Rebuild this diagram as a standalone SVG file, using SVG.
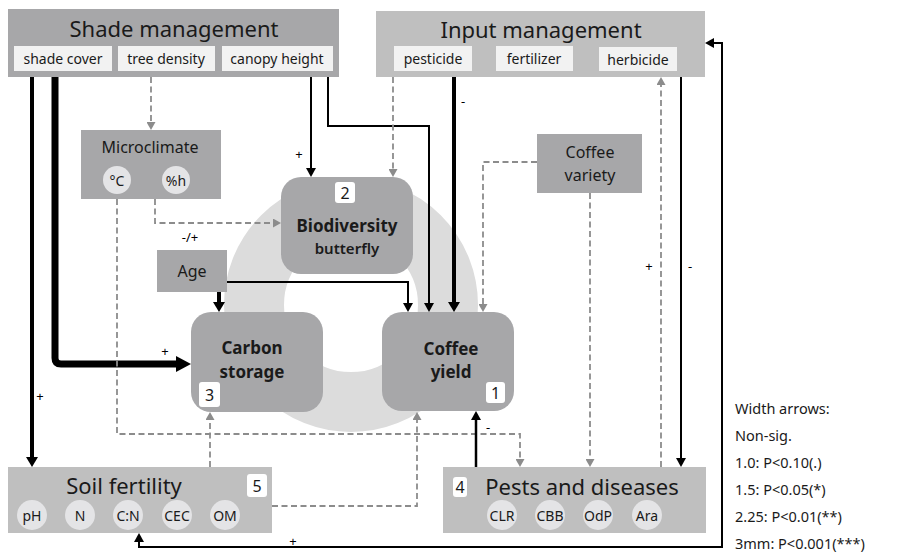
<svg xmlns="http://www.w3.org/2000/svg" width="898" height="552" viewBox="0 0 898 552">
<defs>
<style>
text{font-family:"Noto Sans","DejaVu Sans",sans-serif;fill:#1a1a1a;text-anchor:middle;dominant-baseline:central}
.dark{fill:#a7a7a9}
.light{fill:#bfbfbf}
.sub{fill:#f2f2f2}
.circ{fill:#e4e4e6}
.num{fill:#ffffff}
.title{font-size:22px}
.st{font-size:14px}
.mid{font-size:16px}
.bold{font-size:17px;font-weight:bold}
.ct{font-size:14px}
.lbl{font-size:13px;fill:#000}
.leg{font-size:14.5px;text-anchor:start}
.blk{fill:none;stroke:#000}
.gry{fill:none;stroke:#8c8c8c;stroke-width:1.8;stroke-dasharray:6 3.5}
</style>
<marker id="as" markerUnits="userSpaceOnUse" markerWidth="9" markerHeight="10" refX="0" refY="5" orient="auto-start-reverse" viewBox="0 0 9 10"><path d="M0,0L9,5L0,10z" fill="#000"/></marker>
<marker id="am" markerUnits="userSpaceOnUse" markerWidth="10" markerHeight="12" refX="0" refY="6" orient="auto" viewBox="0 0 10 12"><path d="M0,0L10,6L0,12z" fill="#000"/></marker>
<marker id="al" markerUnits="userSpaceOnUse" markerWidth="15" markerHeight="16" refX="0" refY="8" orient="auto" viewBox="0 0 15 16"><path d="M0,0L15,8L0,16z" fill="#000"/></marker>
<marker id="ag" markerUnits="userSpaceOnUse" markerWidth="8" markerHeight="9" refX="0" refY="4.5" orient="auto" viewBox="0 0 8 9"><path d="M0,0L8,4.5L0,9z" fill="#8c8c8c"/></marker>
</defs>
<rect width="898" height="552" fill="#fff"/>
<circle cx="351" cy="305" r="97" fill="none" stroke="#dcdcdc" stroke-width="60"/>

<g id="connectors">
<path class="blk" stroke-width="4" d="M32,77V457" marker-end="url(#am)"/>
<path class="blk" stroke-width="7" d="M55,77V358Q55,364 61,364H176" marker-end="url(#al)"/>
<path class="gry" d="M151,77V122" marker-end="url(#ag)"/>
<path class="blk" stroke-width="2" d="M311,77V168" marker-end="url(#as)"/>
<path class="blk" stroke-width="2" d="M328,77V126H429V303" marker-end="url(#as)"/>
<path class="blk" stroke-width="4" d="M454,77V302" marker-end="url(#am)"/>
<path class="gry" d="M393,77V169" marker-end="url(#ag)"/>
<path class="gry" d="M537,162H483V304" marker-end="url(#ag)"/>
<path class="gry" d="M590,193V459" marker-end="url(#ag)"/>
<path class="gry" d="M661,467V85" marker-end="url(#ag)"/>
<path class="blk" stroke-width="2" d="M681,77V458" marker-end="url(#as)"/>
<path class="blk" stroke-width="2" d="M139,542V547H722V43H714" marker-start="url(#as)" marker-end="url(#as)"/>
<path class="gry" d="M155,199V223H273" marker-end="url(#ag)"/>
<path class="gry" d="M117,199V434H520V459" marker-end="url(#ag)"/>
<path class="blk" stroke-width="4" d="M219,292V302" marker-end="url(#am)"/>
<path class="blk" stroke-width="2" d="M227,282H408V303" marker-end="url(#as)"/>
<path class="gry" d="M210,467V420" marker-end="url(#ag)"/>
<path class="gry" d="M272,506H417V420" marker-end="url(#ag)"/>
<path class="blk" stroke-width="2.5" d="M476,467V420" marker-end="url(#as)"/>
<text class="lbl" x="40" y="396">+</text>
<text class="lbl" x="165" y="351">+</text>
<text class="lbl" x="299" y="154">+</text>
<text class="lbl" x="463" y="101">-</text>
<text class="lbl" x="190" y="237">-/+</text>
<text class="lbl" x="649" y="266">+</text>
<text class="lbl" x="690" y="266">-</text>
<text class="lbl" x="488" y="427">-</text>
<text class="lbl" x="293" y="541">+</text>
</g>

<g id="shade">
<rect class="dark" x="8" y="9" width="331" height="68"/>
<text class="title" x="174" y="28">Shade management</text>
<rect class="sub" x="14" y="46" width="98" height="25"/>
<rect class="sub" x="118" y="46" width="97" height="25"/>
<rect class="sub" x="222" y="46" width="111" height="25"/>
<text class="st" x="63" y="58">shade cover</text>
<text class="st" x="166" y="58">tree density</text>
<text class="st" x="277" y="58">canopy height</text>
</g>

<g id="input">
<rect class="light" x="376" y="11" width="329" height="66"/>
<text class="title" x="541" y="29">Input management</text>
<rect class="sub" x="394" y="46" width="78" height="25"/>
<rect class="sub" x="496" y="46" width="77" height="25"/>
<rect class="sub" x="599" y="47" width="78" height="24"/>
<text class="st" x="433" y="58">pesticide</text>
<text class="st" x="534" y="58">fertilizer</text>
<text class="st" x="638" y="59">herbicide</text>
</g>

<g id="microclimate">
<rect class="dark" x="81" y="130" width="140" height="69"/>
<text class="mid" x="150" y="147">Microclimate</text>
<circle class="circ" cx="117" cy="180" r="14"/>
<circle class="circ" cx="176" cy="180" r="14"/>
<text class="ct" x="117" y="180">°C</text>
<text class="ct" x="176" y="180">%h</text>
</g>

<g id="biodiversity">
<rect class="dark" x="281" y="177" width="132" height="97" rx="20"/>
<rect class="num" x="335" y="182" width="20" height="21" rx="3"/>
<text class="mid" x="345" y="193">2</text>
<text class="bold" x="347" y="225">Biodiversity</text>
<text x="347" y="248" style="font-size:15px;font-weight:600">butterfly</text>
</g>

<g id="age">
<rect class="dark" x="157" y="250" width="70" height="42"/>
<text class="mid" x="192" y="271">Age</text>
</g>

<g id="carbon">
<rect class="dark" x="191" y="312" width="132" height="100" rx="20"/>
<text class="bold" x="252" y="347">Carbon</text>
<text class="bold" x="252" y="371">storage</text>
<rect class="num" x="199" y="382" width="21" height="25" rx="3"/>
<text class="mid" x="209.5" y="395">3</text>
</g>

<g id="coffeeyield">
<rect class="dark" x="382" y="312" width="132" height="99" rx="20"/>
<text class="bold" x="451" y="348">Coffee</text>
<text class="bold" x="451" y="371">yield</text>
<rect class="num" x="486" y="382" width="19" height="21" rx="3"/>
<text class="mid" x="495.5" y="393">1</text>
</g>

<g id="variety">
<rect class="dark" x="537" y="134" width="105" height="59"/>
<text class="mid" x="590" y="152">Coffee</text>
<text class="mid" x="590" y="175">variety</text>
</g>

<g id="soil">
<rect class="light" x="8" y="467" width="264" height="66"/>
<text class="title" x="124" y="485">Soil fertility</text>
<rect class="num" x="247" y="474" width="20" height="23" rx="3"/>
<text class="mid" x="257" y="486">5</text>
<circle class="circ" cx="32" cy="515" r="15"/>
<circle class="circ" cx="80" cy="515" r="15"/>
<circle class="circ" cx="128" cy="515" r="15"/>
<circle class="circ" cx="177" cy="515" r="15"/>
<circle class="circ" cx="225" cy="515" r="15"/>
<text class="ct" x="32" y="515">pH</text>
<text class="ct" x="80" y="515">N</text>
<text class="ct" x="128" y="515">C:N</text>
<text class="ct" x="177" y="515">CEC</text>
<text class="ct" x="225" y="515">OM</text>
</g>

<g id="pests">
<rect class="light" x="443" y="467" width="263" height="66"/>
<rect class="num" x="453" y="477" width="14" height="20" rx="3"/>
<text class="mid" x="460" y="487">4</text>
<text class="title" x="582" y="486">Pests and diseases</text>
<circle class="circ" cx="502" cy="515" r="15"/>
<circle class="circ" cx="550" cy="515" r="15"/>
<circle class="circ" cx="598" cy="515" r="15"/>
<circle class="circ" cx="647" cy="515" r="15"/>
<text class="ct" x="502" y="515">CLR</text>
<text class="ct" x="550" y="515">CBB</text>
<text class="ct" x="598" y="515">OdP</text>
<text class="ct" x="647" y="515">Ara</text>
</g>

<g id="legend">
<text class="leg" x="735" y="408">Width arrows:</text>
<text class="leg" x="735" y="435">Non-sig.</text>
<text class="leg" x="735" y="462">1.0: P&lt;0.10(.)</text>
<text class="leg" x="735" y="489">1.5: P&lt;0.05(*)</text>
<text class="leg" x="735" y="516">2.25: P&lt;0.01(**)</text>
<text class="leg" x="735" y="543">3mm: P&lt;0.001(***)</text>
</g>
</svg>
